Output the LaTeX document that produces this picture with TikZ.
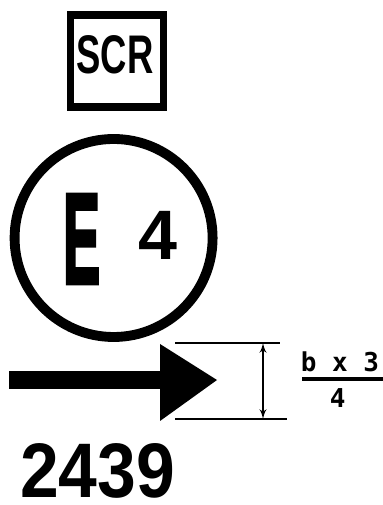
\documentclass[tikz,border=0pt]{standalone}
\usepackage{fontspec}
\setmainfont{Liberation Sans}
\newfontfamily\dimfont{DejaVu Sans Mono}
\newfontfamily\heavyfont[FakeBold=3]{Liberation Sans Bold}
\usepackage{tikz}
\usetikzlibrary{shapes,arrows}

\begin{document}
\begin{tikzpicture}[
      label/.style={inner sep=0pt, font=\bfseries},
      panel/.style={rectangle, draw, line width=5pt, minimum width=2.325cm, minimum height=2.3cm, inner sep=0pt},
      disc/.style={circle, draw, line width=7pt, minimum size=4.95cm, inner sep=0pt},
      line/.style={draw, line width=1.4pt},
      dim/.style={draw, latex'-latex', line width=1.4pt},
      frac/.style={inner sep=0pt, font=\dimfont\bfseries\fontsize{18.5}{20}\selectfont}]

      \useasboundingbox (0,0) rectangle (9.55,12.625);

      % Nodes
      \node [panel] (panel) at (2.925,11.1) {};
      \node [label, xscale=0.67, font=\bfseries\fontsize{38.7}{40}\selectfont] (scr) at (2.875,11.26) {SCR};
      \node [disc] (sign) at (2.84,6.675) {};
      \node [label, xscale=0.43, font=\heavyfont\fontsize{92}{92}\selectfont] (letter) at (2.04,6.65) {E};
      \node [label, font=\bfseries\fontsize{49.8}{50}\selectfont] (number) at (3.94,6.75) {4};

      % Arrow
      \fill (0.225,2.9) rectangle (4.05,3.35);
      \fill (4.0,4.025) -- (5.425,3.125) -- (4.0,2.1) -- cycle;

      % Dimension
      \coordinate (t1) at (4.375,4.05);
      \coordinate (t2) at (7.0,4.05);
      \coordinate (b1) at (4.375,2.15);
      \coordinate (b2) at (7.175,2.15);
      \coordinate (dt) at (6.575,4.05);
      \coordinate (db) at (6.575,2.15);
      \path [line] (t1) -- (t2);
      \path [line] (b1) -- (b2);
      \path [dim] (dt) -- (db);

      % Annotations
      \node [frac] (num) at (8.5,3.575) {b x 3};
      \node [frac] (den) at (8.44,2.6625) {4};
      \coordinate (f1) at (7.55,3.15);
      \coordinate (f2) at (9.6,3.15);
      \path [line, line width=2.2pt] (f1) -- (f2);
      \node [label, xscale=0.9, font=\bfseries\fontsize{55}{56}\selectfont] (code) at (2.44,0.85) {2439};

    \end{tikzpicture}
\end{document}
